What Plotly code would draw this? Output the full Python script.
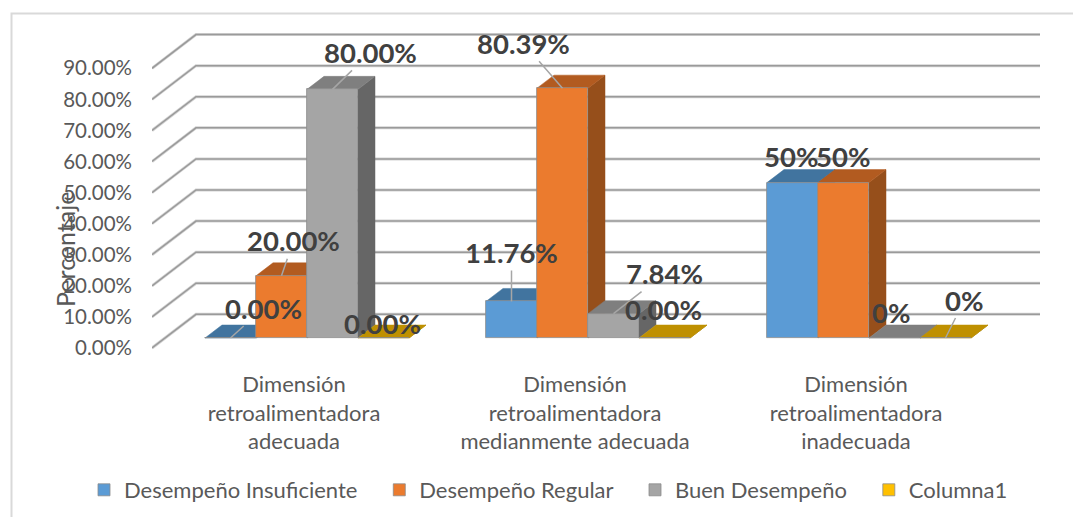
import plotly.graph_objects as go

# ---------- data ----------
categories = [
    "Dimensión<br>retroalimentadora<br>adecuada",
    "Dimensión<br>retroalimentadora<br>medianmente adecuada",
    "Dimensión<br>retroalimentadora<br>inadecuada",
]
series_names = ["Desempeño Insuficiente", "Desempeño Regular", "Buen Desempeño", "Columna1"]
insuficiente = [0.0, 11.76, 50.0]
regular = [20.0, 80.39, 50.0]
buen = [80.0, 7.84, 0.0]
columna1 = [0.0, 0.0, 0.0]
label_insuficiente = ["0.00%", "11.76%", "50%"]
label_regular = ["20.00%", "80.39%", "50%"]
label_buen = ["80.00%", "7.84%", "0%"]
label_columna1 = ["0.00%", "0.00%", "0%"]
tick_values = [0, 10, 20, 30, 40, 50, 60, 70, 80, 90]
tick_labels = ["0.00%", "10.00%", "20.00%", "30.00%", "40.00%", "50.00%", "60.00%", "70.00%", "80.00%", "90.00%"]

# ---------- geometry ----------
W, H = 1073, 517
PL, PR, PT, PB = 152, 1040, 20, 360      # plot box, page pixels
PX_PER_PCT = 3.108
PX_PER_GROUP = 281.0
X_ZERO_PX = 294.0                        # pixel of group 0 label centre
Y_ZERO_PX = 348.0                        # pixel of the 0 tick


def ux(px):
    return px / PX_PER_GROUP


def uy(px):
    return px / PX_PER_PCT


x_range = [ux(PL - X_ZERO_PX), ux(PR - X_ZERO_PX)]
y_range = [uy(Y_ZERO_PX - PB), uy(Y_ZERO_PX - PT)]
BAR_PLANE = uy(10)     # bars stand 10 px above the front tick baseline
WALL = uy(33.7)        # back wall height shift
WALL_DX = ux(44)
BAR_W = ux(51)
DEPTH_X = ux(17)
DEPTH_Y = uy(13)
FIRST_CENTRE = ux(-63.5)

front_colors = ["#5B9BD5", "#EB7B2E", "#A5A5A5", "#FFC000"]
top_colors = ["#41749F", "#B25B20", "#7F7F7F", "#BF9000"]
side_colors = ["#3A6690", "#964F1B", "#666666", "#997300"]

values = [insuficiente, regular, buen, columna1]
labels = [label_insuficiente, label_regular, label_buen, label_columna1]

# label offset from the bar's front-top centre in pixels, and whether a leader is drawn
label_offsets = [
    [(33, -30, True), (0, -49, True), (-2, -26, False)],
    [(12, -35, True), (-39, -45, True), (-1, -26, False)],
    [(38, -37, True), (51, -40, True), (-3, -26, False)],
    [(-1, -15, False), (-1, -29, False), (19, -38, True)],
]

fig = go.Figure()

# wall and floor grid
for v in tick_values:
    fig.add_trace(go.Scatter(
        x=[x_range[0], x_range[0] + WALL_DX, x_range[1]],
        y=[v, v + WALL, v + WALL],
        mode="lines", line=dict(color="#D4D4D4", width=3), hoverinfo="skip", showlegend=False))
    fig.add_trace(go.Scatter(
        x=[x_range[0], x_range[0] + WALL_DX, x_range[1]],
        y=[v, v + WALL, v + WALL],
        mode="lines", line=dict(color="#9A9A9A", width=1.5), hoverinfo="skip", showlegend=False))

# tops and sides, painted from left to right
for g in range(len(categories)):
    for s in range(len(series_names)):
        xc = g + FIRST_CENTRE + s * BAR_W
        xl, xr = xc - BAR_W / 2, xc + BAR_W / 2
        v = values[s][g] + BAR_PLANE
        fig.add_trace(go.Scatter(
            x=[xr, xr + DEPTH_X, xr + DEPTH_X, xr, xr],
            y=[BAR_PLANE, BAR_PLANE + DEPTH_Y, v + DEPTH_Y, v, BAR_PLANE],
            fill="toself", fillcolor=side_colors[s], mode="lines",
            line=dict(color=side_colors[s], width=0.5), hoverinfo="skip", showlegend=False))
        fig.add_trace(go.Scatter(
            x=[xl, xl + DEPTH_X, xr + DEPTH_X, xr, xl],
            y=[v, v + DEPTH_Y, v + DEPTH_Y, v, v],
            fill="toself", fillcolor=top_colors[s], mode="lines",
            line=dict(color=top_colors[s], width=0.5), hoverinfo="skip", showlegend=False))

# front faces on an overlaying pair of axes, so they sit above tops and sides
for s, name in enumerate(series_names):
    fig.add_trace(go.Bar(
        x=[g + FIRST_CENTRE + s * BAR_W for g in range(len(categories))],
        y=values[s], width=BAR_W, name=name + "\u00a0\u00a0\u00a0",
        marker=dict(color=front_colors[s], line=dict(color="#8C8C8C", width=0.8)),
        xaxis="x2", yaxis="y2"))

# data labels with leader lines
annotations = []
for s in range(len(series_names)):
    for g in range(len(categories)):
        dx, dy, leader = label_offsets[s][g]
        a = dict(
            x=g + FIRST_CENTRE + s * BAR_W, y=values[s][g] + BAR_PLANE, xref="x", yref="y",
            text=labels[s][g], font=dict(family="Lato", size=27.5, color="#404040", weight="bold"),
            xanchor="center", yanchor="middle")
        if leader:
            a.update(showarrow=True, ax=dx, ay=dy, axref="pixel", ayref="pixel",
                     arrowhead=0, arrowwidth=1.5, arrowcolor="#A6A6A6", standoff=0)
        else:
            a.update(showarrow=False, xshift=dx, yshift=-dy)
        annotations.append(a)

# axis title
annotations.append(dict(
    x=65 / W, y=1 - 250 / H, xref="paper", yref="paper", text="Percentaje", showarrow=False,
    xanchor="center", yanchor="middle",
    textangle=-90, font=dict(family="Lato", size=25, color="#595959")))

# chart frame: top and left edges only
shapes = [dict(type="path", xref="paper", yref="paper",
               path=f"M {11.5 / W},0 L {11.5 / W},{1 - 13.5 / H} L 1,{1 - 13.5 / H}",
               line=dict(color="#D9D9D9", width=2), layer="below")]

fig.update_layout(
    width=W, height=H, margin=dict(l=0, r=0, t=0, b=0),
    paper_bgcolor="white", plot_bgcolor="rgba(0,0,0,0)",
    barmode="overlay", bargap=0,
    font=dict(family="Lato", color="#595959"),
    xaxis=dict(domain=[PL / W, PR / W], range=x_range, tickmode="array", tickvals=list(range(len(categories))),
               ticktext=categories, showgrid=False, zeroline=False, showline=False, ticks="",
               ticklabelstandoff=9, tickfont=dict(size=22, color="#595959", family="Lato")),
    yaxis=dict(domain=[1 - PB / H, 1 - PT / H], range=y_range, tickmode="array", tickvals=tick_values,
               ticktext=tick_labels, showgrid=False, zeroline=False, showline=False, ticks="",
               ticklabelstandoff=19, tickfont=dict(size=20.5, color="#595959", family="Lato")),
    xaxis2=dict(domain=[PL / W, PR / W], range=x_range, overlaying="x", visible=False, anchor="y2"),
    yaxis2=dict(domain=[1 - PB / H, 1 - PT / H], range=[y_range[0] - BAR_PLANE, y_range[1] - BAR_PLANE],
                overlaying="y", visible=False, anchor="x2"),
    legend=dict(orientation="h", x=84 / W, xanchor="left", y=1 - 490 / H, yanchor="middle",
                font=dict(size=22, color="#595959", family="Lato"), bgcolor="rgba(0,0,0,0)"),
    annotations=annotations, shapes=shapes,
)

fig.write_html("out.html", config={"displayModeBar": False},
               post_script="document.body.style.margin='0';")
